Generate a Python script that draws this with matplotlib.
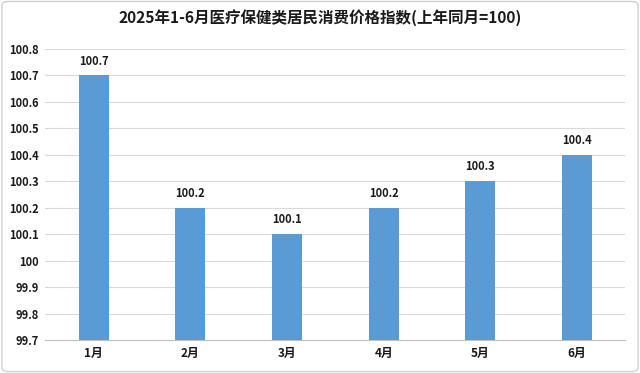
import matplotlib
matplotlib.use("Agg")
import matplotlib.pyplot as plt
from matplotlib.patches import FancyBboxPatch

plt.rcParams['font.family'] = ['Noto Sans CJK SC', 'DejaVu Sans']

months = ["1月", "2月", "3月", "4月", "5月", "6月"]
values = [100.7, 100.2, 100.1, 100.2, 100.3, 100.4]
yticks = [99.7, 99.8, 99.9, 100, 100.1, 100.2, 100.3, 100.4, 100.5, 100.6, 100.7, 100.8]
ytick_labels = ["99.7", "99.8", "99.9", "100", "100.1", "100.2", "100.3", "100.4", "100.5", "100.6", "100.7", "100.8"]
title = "2025年1-6月医疗保健类居民消费价格指数(上年同月=100)"

fig = plt.figure(figsize=(6.4, 3.73), dpi=100)
border = FancyBboxPatch((0.003, 0.004), 0.994, 0.992, boxstyle="round,pad=0,rounding_size=0.01",
                        transform=fig.transFigure, facecolor="none", edgecolor="#D0D0D0", linewidth=1,
                        zorder=-1)
fig.patches.append(border)

ax = fig.add_axes([0.071, 0.0885, 0.906, 0.78])
x = list(range(len(months)))
ax.bar(x, [v - 99.7 for v in values], bottom=99.7, width=0.31, color="#5B9BD5", zorder=3)
for xi, v in zip(x, values):
    ax.text(xi, v + 0.03, f"{v:.1f}", ha="center", va="bottom", fontsize=8, fontweight="bold", color="#1a1a1a")

ax.set_ylim(99.7, 100.8)
ax.set_xlim(-0.5, len(months) - 0.5)
ax.set_yticks(yticks)
ax.set_yticklabels(ytick_labels, fontsize=8, fontweight="bold", color="#1a1a1a")
ax.set_xticks(x)
ax.set_xticklabels(months, fontsize=8.5, fontweight="bold", color="#1a1a1a")
ax.yaxis.grid(True, color="#D9D9D9", linewidth=0.8, zorder=0)
ax.set_axisbelow(True)
for s in ["top", "right", "left"]:
    ax.spines[s].set_visible(False)
ax.spines["bottom"].set_color("#BFBFBF")
ax.tick_params(axis="y", length=0, pad=5)
ax.tick_params(axis="x", length=0, pad=5)
ax.set_facecolor("none")

fig.text(0.5, 0.952, title, ha="center", va="center", fontsize=11.2, fontweight="bold", color="#1a1a1a")

fig.savefig("out.png", dpi=100)
